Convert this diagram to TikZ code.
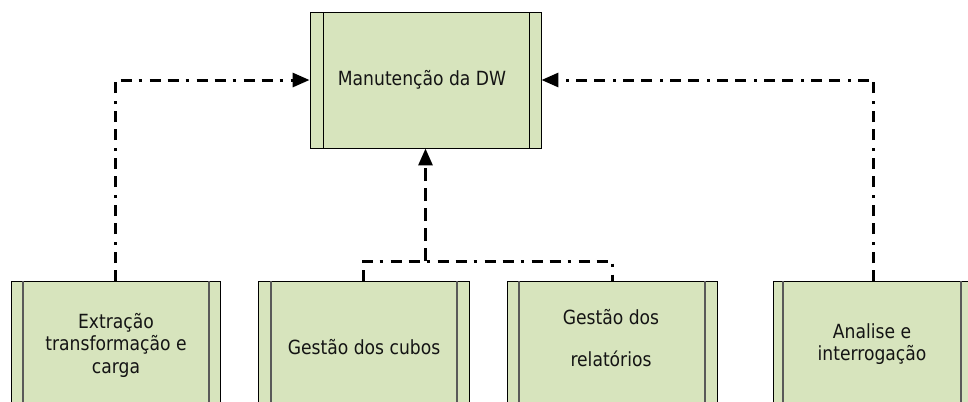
\documentclass[tikz,border=0pt]{standalone}
\usepackage{fontspec}
\newfontfamily\boxfont{DejaVu Sans}[FakeStretch=0.88]
\usetikzlibrary{arrows.meta}
\definecolor{boxgreen}{RGB}{215,228,189}
\definecolor{txt}{RGB}{20,20,20}
\tikzset{
  procbox/.style={draw=black, line width=0.9bp, fill=boxgreen, rectangle, inner sep=0pt},
  innerline/.style={draw=black!65, line width=1.4bp},
  topinner/.style={draw=black, line width=0.9bp},
  lbl/.style={font=\boxfont\fontsize{19.5bp}{22.5bp}\selectfont, text=txt, align=center, inner sep=0pt},
  dashdotline/.style={line width=3bp, dash pattern=on 11bp off 7bp on 11bp off 7bp on 3bp off 8bp},
  dashline/.style={line width=3bp, dash pattern=on 13bp off 7bp},
  tip/.style={-{Triangle[length=17bp,width=14bp]}}
}
\begin{document}
\begin{tikzpicture}[x=1bp,y=-1bp]
\useasboundingbox (0,0) rectangle (968,401);
\clip (0,0) rectangle (968,401);
\fill[white] (0,0) rectangle (968,401);
% top box
\node[procbox, minimum width=231bp, minimum height=136bp] (top) at (425.5,80) {};
\draw[topinner] (323,12) -- (323,148);
\draw[topinner] (529,12) -- (529,148);
\node[lbl] (toptxt) at (422,80) {Manutenção da DW};
% bottom boxes
\node[procbox, minimum width=209bp, minimum height=160bp, anchor=north] (b1) at (115.5,281) {};
\draw[innerline] (23,281) -- (23,441);
\draw[innerline] (209,281) -- (209,441);
\node[procbox, minimum width=211bp, minimum height=160bp, anchor=north] (b2) at (363.5,281) {};
\draw[innerline] (271,281) -- (271,441);
\draw[innerline] (457,281) -- (457,441);
\node[procbox, minimum width=210bp, minimum height=160bp, anchor=north] (b3) at (612,281) {};
\draw[innerline] (519,281) -- (519,441);
\draw[innerline] (705,281) -- (705,441);
\node[procbox, minimum width=201bp, minimum height=160bp, anchor=north] (b4) at (873.5,281) {};
\draw[innerline] (783,281) -- (783,441);
\draw[innerline] (961,281) -- (961,441);
% labels
\node[lbl] (t1) at (116,345) {Extração\\transformação e\\carga};
\node[lbl] (t2) at (364,347) {Gestão dos cubos};
\node[lbl] (t3) at (611,338) {Gestão dos\\[19.5bp]relatórios};
\node[lbl] (t4) at (872,344) {Analise e\\interrogação};
% connectors
\coordinate (mj) at (425.5,261);
\draw[dashdotline, tip] (b1.north) |- (top.west);
\draw[dashdotline, tip] (b4.north) |- (top.east);
\draw[dashdotline] (b2.north) -- (b2.north |- mj) -- (b3.north |- mj) -- (b3.north);
\draw[dashline, tip] (mj) -- (top.south);
\end{tikzpicture}
\end{document}
